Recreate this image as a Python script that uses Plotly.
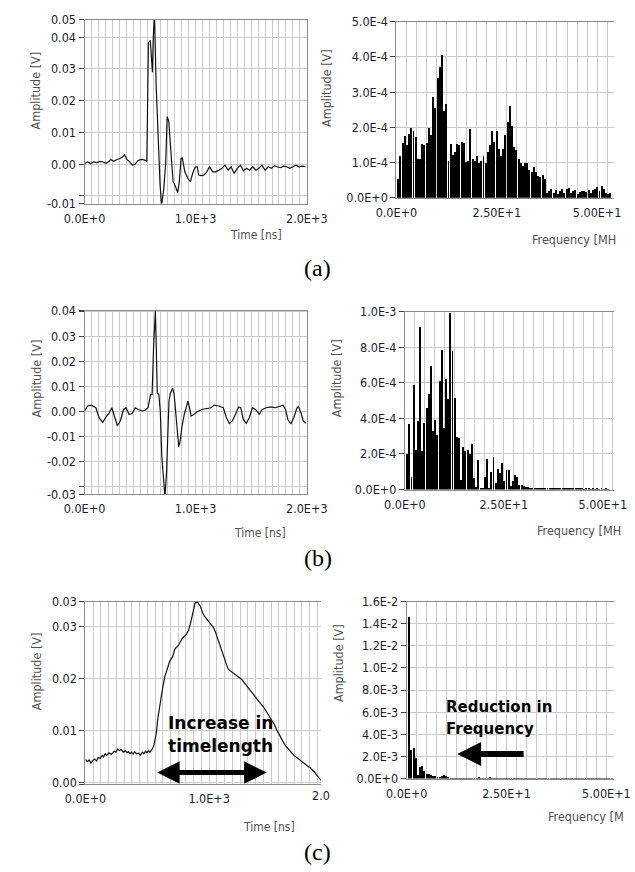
import plotly.graph_objects as go

W, H = 635, 872

# ---------------- data ----------------
# (a) time signal [ns], [V]
t_a = [0, 28, 56, 83, 111, 139, 167, 194, 222, 236, 264, 292, 319, 342, 361, 380, 403, 431, 453, 481,
       514, 542, 561, 569, 575, 592, 611, 619, 630, 644, 667, 680, 694, 714, 730, 744, 758, 778, 797,
       819, 839, 853, 869, 880, 903, 930, 953, 972, 994, 1014, 1028, 1050, 1075, 1097, 1125, 1153,
       1181, 1208, 1236, 1264, 1292, 1319, 1347, 1375, 1403, 1431, 1458, 1486, 1514, 1542, 1569,
       1597, 1625, 1653, 1681, 1708, 1736, 1764, 1792, 1819, 1847, 1875, 1903, 1931, 1958, 1990]
v_a = [0.0002, 0.0007, 0.0002, 0.0007, 0.0005, 0.0009, 0.0007, 0.0003, 0.0009, 0.0015, 0.0009, 0.0015,
       0.0018, 0.0023, 0.0030, 0.0015, 0.0009, -0.0003, -0.0001, 0.0012, 0.0015, 0.0013, 0.0009, 0.018,
       0.0383, 0.0390, 0.029, 0.0401, 0.047, 0.0255, 0.003, -0.0065, -0.0130, -0.0075, 0.0, 0.015,
       0.0136, 0.0028, -0.0055, -0.007, -0.009, -0.0055, 0.0018, 0.002, -0.0024, -0.0045, -0.0055,
       -0.003, -0.001, -0.0008, -0.0034, -0.0036, -0.0034, -0.0026, -0.0008, -0.0024, -0.0024, -0.0019,
       -0.0013, -0.0003, -0.0019, -0.0008, -0.0029, -0.0013, -0.0003, -0.0021, -0.0013, -0.0019,
       -0.0008, -0.0019, -0.0013, -0.0003, -0.0019, -0.0008, -0.0013, -0.0005, -0.0008, -0.0011,
       -0.0006, -0.0008, -0.0013, -0.0008, -0.0003, -0.0008, -0.0006, -0.0008]

# (b) time signal
t_b = [0, 28, 61, 102, 130, 163, 191, 218, 246, 268, 296, 323, 351, 373, 401, 428, 456, 483, 517, 544,
       572, 594, 608, 622, 633, 638, 646, 655, 669, 682, 696, 710, 724, 738, 751, 760, 773, 793, 807,
       820, 834, 848, 862, 876, 898, 917, 931, 945, 959, 986, 1014, 1055, 1097, 1138, 1166, 1207, 1249,
       1276, 1304, 1331, 1359, 1387, 1406, 1428, 1456, 1483, 1511, 1539, 1572, 1599, 1635, 1677, 1718,
       1760, 1787, 1809, 1829, 1856, 1884, 1912, 1925, 1948, 1967, 1990]
v_b = [0.0004, 0.0024, 0.0027, 0.0017, -0.0022, -0.0042, -0.0022, -0.0007, 0.0017, -0.0016, -0.0055,
       -0.0035, 0.0010, 0.0017, -0.0009, -0.0007, 0.0017, 0.0010, 0.0004, 0.0007, 0.0017, 0.0069, 0.0069,
       0.0265, 0.0396, 0.0403, 0.0252, 0.0076, 0.0069, 0.0004, -0.0179, -0.0258, -0.0340, -0.0244,
       -0.0088, 0.0043, 0.0076, 0.0095, 0.0069, -0.0009, -0.0088, -0.0140, -0.0114, -0.0061, -0.0009,
       0.0017, 0.0043, 0.0017, -0.0016, -0.0009, 0.0001, 0.0010, 0.0014, 0.0017, 0.0027, 0.0024, 0.0017,
       -0.0022, -0.0046, -0.0035, -0.0009, 0.0020, 0.0017, -0.0029, -0.0046, -0.0022, 0.0017, 0.0010,
       -0.0009, 0.0010, 0.0017, 0.0020, 0.0017, 0.0024, 0.0027, 0.0010, -0.0029, -0.0048, -0.0022,
       0.0017, 0.0022, -0.0003, -0.0035, -0.0045]

# (c) time signal
t_c = [0, 15, 30, 45, 60, 75, 90, 105, 121, 135, 146, 160, 171, 190, 209, 222, 234, 247, 259, 274, 289,
       305, 322, 335, 347, 360, 372, 385, 397, 413, 430, 445, 460, 472, 485, 497, 510, 522, 535, 545,
       555, 565, 573, 585, 603, 623, 641, 661, 681, 704, 724, 749, 769, 786, 812, 832, 849, 862, 874,
       885, 894, 900, 907, 915, 925, 937, 950, 962, 975, 987, 1000, 1013, 1025, 1038, 1050, 1063, 1075,
       1088, 1100, 1113, 1125, 1138, 1150, 1163, 1175, 1188, 1207, 1226, 1245, 1264, 1283, 1302, 1320,
       1339, 1364, 1389, 1414, 1440, 1465, 1490, 1509, 1528, 1546, 1565, 1584, 1603, 1622, 1641, 1666,
       1691, 1716, 1741, 1760, 1779, 1798, 1817, 1835, 1854, 1866, 1879, 1892, 1905]
v_c = [0.0044, 0.0040, 0.0043, 0.0037, 0.0042, 0.0045, 0.0041, 0.0048, 0.0046, 0.0052, 0.0049, 0.0055,
       0.0052, 0.0057, 0.0054, 0.0058, 0.0060, 0.0058, 0.0064, 0.0061, 0.0063, 0.0058, 0.0061, 0.0057,
       0.0059, 0.0055, 0.0058, 0.0054, 0.0059, 0.0055, 0.0056, 0.0052, 0.0058, 0.0055, 0.0060, 0.0057,
       0.0061, 0.0058, 0.0062, 0.0066, 0.0073, 0.0083, 0.0095, 0.0123, 0.0152, 0.0180, 0.0203, 0.0218,
       0.0233, 0.0242, 0.0257, 0.0263, 0.0270, 0.0278, 0.0284, 0.0292, 0.0306, 0.0322, 0.0336, 0.0344,
       0.0349, 0.0346, 0.0348, 0.0343, 0.0341, 0.0332, 0.0325, 0.0320, 0.0316, 0.0313, 0.0310, 0.0306,
       0.0302, 0.0297, 0.0290, 0.0281, 0.0272, 0.0262, 0.0254, 0.0243, 0.0235, 0.0226, 0.0220, 0.0216,
       0.0214, 0.0212, 0.0209, 0.0205, 0.0201, 0.0198, 0.0192, 0.0186, 0.0180, 0.0174, 0.0166, 0.0158,
       0.0152, 0.0145, 0.0136, 0.0126, 0.0118, 0.0111, 0.0101, 0.0092, 0.0084, 0.0076, 0.0069, 0.0063,
       0.0057, 0.0051, 0.0046, 0.0041, 0.0038, 0.0035, 0.0031, 0.0028, 0.0024, 0.0019, 0.0015, 0.0011,
       0.0007, 0.0004]

# spectra: bin spacing [MHz] and amplitudes
df_bin = 0.545
spec_a_e4 = [0.55, 1.2, 1.57, 1.75, 1.5, 1.83, 2.0, 1.9, 1.72, 1.12,
             1.12, 1.53, 1.5, 1.55, 2.0, 1.78, 2.88, 2.56, 3.4, 3.72,
             4.05, 2.48, 2.67, 1.04, 1.53, 1.23, 1.3, 1.52, 1.5, 1.6,
             1.55, 1.02, 1.05, 1.97, 1.1, 1.05, 1.2, 0.98, 1.05, 1.2,
             1.0, 1.3, 1.5, 1.9, 1.6, 1.9, 1.4, 1.2, 1.4, 1.8,
             2.15, 2.62, 2.05, 1.45, 1.35, 1.1, 0.98, 0.9, 0.98, 0.98,
             0.8, 0.75, 0.88, 0.75, 0.62, 0.6, 0.65, 0.55, 0.15, 0.2,
             0.25, 0.15, 0.22, 0.12, 0.2, 0.25, 0.15, 0.25, 0.28, 0.15,
             0.2, 0.22, 0.12, 0.18, 0.2, 0.2, 0.18, 0.22, 0.15, 0.22,
             0.25, 0.3, 0.2, 0.35, 0.25, 0.15, 0.1, 0.15]
spec_b_e4 = [2.04, 3.7, 0.74, 5.87, 2.26, 3.85, 9.17, 2.17, 3.78, 4.63,
             5.37, 6.98, 3.33, 3.93, 3.06, 6.11, 7.85, 3.48, 6.24, 5.09,
             9.94, 7.78, 5.15, 2.96, 2.9, 0.56, 2.4, 2.19, 2.24, 2.0,
             2.59, 0.65, 0.19, 1.67, 0.1, 0.1, 0.74, 1.72, 0.13, 1.02,
             1.85, 0.4, 1.15, 0.96, 1.52, 0.5, 1.11, 1.11, 0.2, 0.5,
             0.85, 0.75, 0.3, 0.25, 0.2, 0.15, 0.15, 0.12, 0.12, 0.1,
             0.12, 0.1, 0.08, 0.1, 0.12, 0.1, 0.1, 0.08, 0.1, 0.12,
             0.1, 0.08, 0.1, 0.1, 0.07, 0.08, 0.1, 0.07, 0.06, 0.08,
             0.07, 0.06, 0.05, 0.07, 0.06, 0.05, 0.06, 0.05, 0.07, 0.05,
             0.06, 0.05, 0.06, 0.05]
spec_c_e3 = [14.6, 2.6, 2.84, 1.92, 0.38, 1.04, 1.15, 0.68, 0.47, 0.44,
             0.38, 0.24, 0.24, 0.18, 0.2, 0.24, 0.36, 0.24, 0.15, 0.06,
             0.05, 0.04, 0.06, 0.05, 0.08, 0.05, 0.04, 0.06, 0.07, 0.05,
             0.04, 0.06, 0.09, 0.05, 0.04, 0.05, 0.06, 0.1, 0.05, 0.04,
             0.05, 0.06, 0.05, 0.04, 0.08, 0.05, 0.04, 0.05, 0.06, 0.04,
             0.05, 0.07, 0.05, 0.04, 0.05, 0.06, 0.05, 0.04, 0.05, 0.05,
             0.04, 0.06, 0.05, 0.04, 0.05, 0.04, 0.05, 0.04, 0.05, 0.06,
             0.04, 0.05, 0.04, 0.05, 0.04, 0.04, 0.05, 0.04, 0.05, 0.04,
             0.04, 0.05, 0.04, 0.04, 0.05, 0.04, 0.04, 0.05, 0.04, 0.04,
             0.05, 0.04, 0.04, 0.05]

# tick labels
time_tickvals = [0, 1000, 2000]
time_ticktext = ["0.0E+0", "1.0E+3", "2.0E+3"]
freq_tickvals = [0, 25, 50]
freq_ticktext = ["0.0E+0", "2.50E+1", "5.00E+1"]
ya_vals = [-0.0124, -0.01, 0, 0.01, 0.02, 0.03, 0.04, 0.0455]
ya_text = ["-0.01", "", "0.00", "0.01", "0.02", "0.03", "0.04", "0.05"]
yb_vals = [-0.033, -0.03, -0.02, -0.01, 0, 0.01, 0.02, 0.03, 0.04, 0.0405]
yb_text = ["-0.03", "", "-0.02", "-0.01", "0.00", "0.01", "0.02", "0.03", "", "0.04"]
yc_vals = [-0.0004, 0, 0.01, 0.02, 0.03, 0.0348]
yc_text = ["", "0.00", "0.01", "0.02", "0.03", "0.03"]
sa_vals = [0, 1e-4, 2e-4, 3e-4, 4e-4, 5e-4]
sa_text = ["0.0E+0", "1.0E-4", "2.0E-4", "3.0E-4", "4.0E-4", "5.0E-4"]
sb_vals = [0, 2e-4, 4e-4, 6e-4, 8e-4, 1e-3]
sb_text = ["0.0E+0", "2.0E-4", "4.0E-4", "6.0E-4", "8.0E-4", "1.0E-3"]
sc_vals = [0, 2e-3, 4e-3, 6e-3, 8e-3, 1e-2, 1.2e-2, 1.4e-2, 1.6e-2]
sc_text = ["0.0E+0", "2.0E-3", "4.0E-3", "6.0E-3", "8.0E-3", "1.0E-2", "1.2E-2", "1.4E-2", "1.6E-2"]

# ---------------- styling ----------------
GRID = "#c9c9c9"
AXIS = "#8a8a8a"
TICK = "#1c1c30"
TITLE = "#505050"
TFONT = "DejaVu Sans Condensed, DejaVu Sans"


def xp(px):
    return px / W


def yp(py):
    return 1 - py / H


fig = go.Figure()


def freqs(n):
    return [df_bin * (k + 1) for k in range(n)]


BAR_W = 0.24
fig.add_trace(go.Scatter(x=t_a, y=v_a, mode="lines", line=dict(color="#111111", width=1.2),
                         xaxis="x", yaxis="y", showlegend=False))
fig.add_trace(go.Bar(x=freqs(len(spec_a_e4)), y=[v * 1e-4 for v in spec_a_e4], width=BAR_W,
                     marker=dict(color="#000000", line=dict(width=0)), xaxis="x2", yaxis="y2",
                     showlegend=False))
fig.add_trace(go.Scatter(x=t_b, y=v_b, mode="lines", line=dict(color="#111111", width=1.2),
                         xaxis="x3", yaxis="y3", showlegend=False))
fig.add_trace(go.Bar(x=freqs(len(spec_b_e4)), y=[v * 1e-4 for v in spec_b_e4], width=BAR_W,
                     marker=dict(color="#000000", line=dict(width=0)), xaxis="x4", yaxis="y4",
                     showlegend=False))
fig.add_trace(go.Scatter(x=t_c, y=v_c, mode="lines", line=dict(color="#111111", width=1.2),
                         xaxis="x5", yaxis="y5", showlegend=False))
fig.add_trace(go.Bar(x=freqs(len(spec_c_e3)), y=[v * 1e-3 for v in spec_c_e3], width=BAR_W,
                     marker=dict(color="#000000", line=dict(width=0)), xaxis="x6", yaxis="y6",
                     showlegend=False))


def xax(dom, rng, vals, text, minor, anchor):
    return dict(domain=[xp(dom[0]), xp(dom[1])], range=rng, anchor=anchor,
                tickmode="array", tickvals=vals, ticktext=text,
                showgrid=True, gridcolor=GRID, gridwidth=1,
                minor=dict(tickmode="linear", tick0=0, dtick=minor, showgrid=True,
                           gridcolor=GRID, gridwidth=1, ticks=""),
                showline=True, linecolor=AXIS, linewidth=1, mirror=True,
                ticks="outside", ticklen=3, tickcolor="rgba(0,0,0,0)",
                tickfont=dict(family=TFONT, size=12.5, color=TICK),
                zeroline=False, fixedrange=True)


def yax(dom, rng, vals, text, anchor, mirror):
    return dict(domain=[yp(dom[1]), yp(dom[0])], range=rng, anchor=anchor,
                tickmode="array", tickvals=vals, ticktext=text,
                showgrid=True, gridcolor=GRID, gridwidth=1,
                showline=True, linecolor=AXIS, linewidth=1, mirror=mirror,
                ticks="outside", ticklen=5, tickcolor="#404040", tickwidth=1,
                tickfont=dict(family=TFONT, size=12.5, color=TICK),
                zeroline=False, fixedrange=True)


layout_axes = dict(
    xaxis=xax((68, 306), [0, 2000], time_tickvals, time_ticktext, 62.5, "y"),
    yaxis=yax((12, 199), [-0.0124, 0.0455], ya_vals, ya_text, "x", True),
    xaxis2=xax((402, 635), [0, 54.2], freq_tickvals, freq_ticktext, 2.5, "y2"),
    yaxis2=yax((14, 193), [0, 5e-4], sa_vals, sa_text, "x2", False),
    xaxis3=xax((68, 306), [0, 2000], time_tickvals, time_ticktext, 62.5, "y3"),
    yaxis3=yax((308, 495), [-0.033, 0.0405], yb_vals, yb_text, "x3", True),
    xaxis4=xax((411, 635), [0, 52.8], freq_tickvals, freq_ticktext, 2.5, "y4"),
    yaxis4=yax((309, 490), [0, 1e-3], sb_vals, sb_text, "x4", False),
    xaxis5=xax((69, 321), [0, 1902], time_tickvals, time_ticktext, 62.5, "y5"),
    yaxis5=yax((604, 790), [-0.0004, 0.0348], yc_vals, yc_text, "x5", False),
    xaxis6=xax((413, 635), [0, 51.9], freq_tickvals, freq_ticktext, 2.5, "y6"),
    yaxis6=yax((604, 784), [0, 0.016], sc_vals, sc_text, "x6", False),
)

ann = []


def txt(x, y, s, size, color=TITLE, family="Liberation Sans", angle=0, xanchor="center",
        bold=False):
    ann.append(dict(x=xp(x), y=yp(y), xref="paper", yref="paper", text=("<b>%s</b>" % s) if bold else s,
                    showarrow=False, textangle=angle, xanchor=xanchor, yanchor="middle",
                    font=dict(family=family, size=size, color=color)))


# axis titles
for (x, y) in [(16, 84), (327, 81), (17, 377), (338, 377), (17, 675), (340, 667)]:
    txt(x, y, "Amplitude [V]", 12.5, angle=-90, family=TFONT)
for (x, y) in [(252, 231), (256, 534), (266, 833)]:
    txt(x, y, "Time [ns]", 12, family=TFONT)
# the frequency titles are cropped at the right edge in the original figure
for (x, y, s) in [(545, 236, "Frequency [MH"), (550, 532, "Frequency [MH"), (562, 823, "Frequency [M")]:
    txt(x, y, s, 12.5, family=TFONT, xanchor="left")
# truncated tick label at the cropped edge of panel (c) left
txt(309, 801, "2.0", 12.5, color=TICK, family=TFONT, xanchor="left")
# captions
txt(318, 265, "(a)", 24, color="#000000", family="Liberation Serif")
txt(318, 560, "(b)", 24, color="#000000", family="Liberation Serif")
txt(318, 859, "(c)", 24, color="#000000", family="Liberation Serif")
# callouts
txt(155, 728, "Increase in", 17, color="#000000", family="DejaVu Sans", xanchor="left", bold=True)
txt(155, 751, "timelength", 17, color="#000000", family="DejaVu Sans", xanchor="left", bold=True)
txt(453, 711, "Reduction in", 15, color="#000000", family="DejaVu Sans", xanchor="left", bold=True)
txt(453, 734, "Frequency", 15, color="#000000", family="DejaVu Sans", xanchor="left", bold=True)

ann.append(dict(x=xp(263), y=yp(778), xref="paper", yref="paper", ax=-111, ay=0, text="",
                showarrow=True, arrowhead=2, arrowside="end+start", arrowwidth=5, arrowsize=0.9,
                arrowcolor="#000000", standoff=0, startstandoff=0))
ann.append(dict(x=xp(467), y=yp(759), xref="paper", yref="paper", ax=68, ay=0, text="",
                showarrow=True, arrowhead=2, arrowwidth=6, arrowsize=0.8,
                arrowcolor="#000000", standoff=0))

fig.update_layout(width=W, height=H, margin=dict(l=0, r=0, t=0, b=0),
                  paper_bgcolor="white", plot_bgcolor="white", showlegend=False,
                  bargap=0, annotations=ann, **layout_axes)

fig.write_html("out.html")
